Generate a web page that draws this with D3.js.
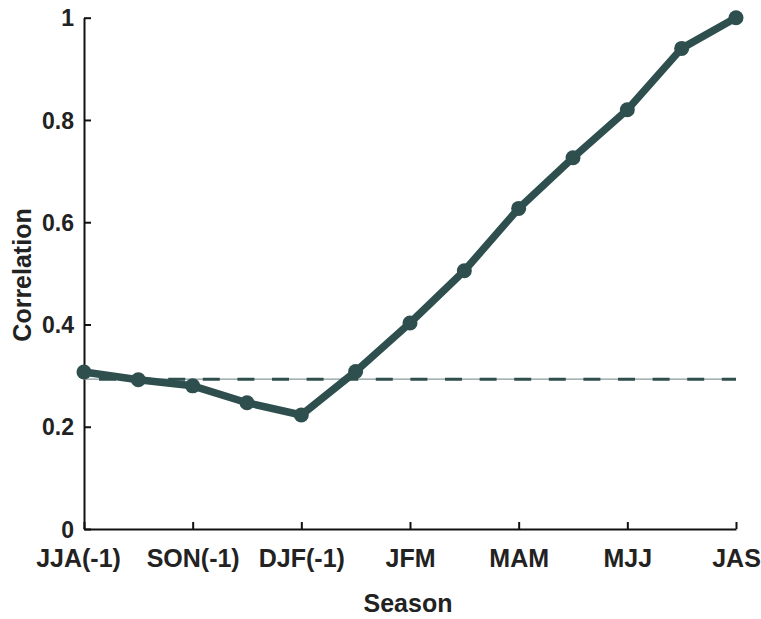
<!DOCTYPE html>
<html>
<head>
<meta charset="utf-8">
<script src="https://cdn.jsdelivr.net/npm/d3@7"></script>
<style>
    body { margin: 0; background: #fff; }
    text { font-family: "Liberation Sans", Arial, Helvetica, sans-serif; font-weight: bold; fill: #222; }
</style>
</head>
<body>
<div id="chart"></div>
<script>
//图表数据
const seasons = ["JJA(-1)", "JAS(-1)", "SON(-1)", "OND(-1)", "DJF(-1)", "JFM(a)", "JFM",
    "FMA", "MAM", "AMJ", "MJJ", "JJA", "JAS"];
const tickLabels = ["JJA(-1)", "SON(-1)", "DJF(-1)", "JFM", "MAM", "MJJ", "JAS"];
const correlation = [0.307, 0.292, 0.280, 0.247, 0.223, 0.308, 0.403, 0.505, 0.627, 0.726, 0.820, 0.940, 1.0];
const threshold = 0.293;
const yTicks = [0, 0.2, 0.4, 0.6, 0.8, 1];

const width = 761;
const height = 619;
const lineColor = "#2f4f4f";

var svg = d3.select("#chart").append("svg")
    .attr("width", width).attr("height", height);

var x = d3.scaleLinear()
    .domain([0, seasons.length - 1])
    .range([84, 736]);

var y = d3.scaleLinear()
    .domain([0, 1])
    .range([529, 17.7]);

//坐标轴
var xAxis = d3.axisBottom(x)
    .tickValues(d3.range(0, seasons.length, 2))
    .tickFormat((d, i) => tickLabels[i])
    .tickSizeInner(-7)
    .tickSizeOuter(0)
    .tickPadding(30);

var gx = svg.append("g")
    .attr("transform", "translate(0," + y(0) + ")")
    .call(xAxis);
gx.selectAll("text").style("font-size", "25px").attr("dy", "0.71em").attr("y", 20);
//第一个标签略微左移
gx.selectAll("text").filter((d, i) => i === 0).attr("x", -6);

var yAxis = d3.axisLeft(y)
    .tickValues(yTicks)
    .tickFormat(d => d === 0 || d === 1 ? d3.format("d")(d) : d3.format(".1f")(d))
    .tickSizeInner(-7)
    .tickSizeOuter(0)
    .tickPadding(10);

var gy = svg.append("g")
    .attr("transform", "translate(" + x(0) + ",0)")
    .call(yAxis);
gy.selectAll("text").style("font-size", "23px").attr("dy", "0.35em");

svg.selectAll(".domain, .tick line")
    .attr("stroke", "#111")
    .attr("stroke-width", 2);

//阈值虚线
svg.append("line")
    .attr("x1", x(0)).attr("x2", x(seasons.length - 1))
    .attr("y1", y(threshold)).attr("y2", y(threshold))
    .attr("stroke", "#8a9898")
    .attr("stroke-width", 1.2);

svg.append("line")
    .attr("x1", x(0)).attr("x2", x(seasons.length - 1))
    .attr("y1", y(threshold)).attr("y2", y(threshold))
    .attr("stroke", lineColor)
    .attr("stroke-width", 3)
    .attr("stroke-dasharray", "17,17.6")
    .attr("stroke-dashoffset", -15);

//相关系数曲线
var line = d3.line()
    .x((d, i) => x(i))
    .y(d => y(d));

svg.append("path")
    .datum(correlation)
    .attr("fill", "none")
    .attr("stroke", lineColor)
    .attr("stroke-width", 7.5)
    .attr("stroke-linejoin", "round")
    .attr("d", line);

svg.append("g")
    .selectAll("circle")
    .data(correlation)
    .enter()
    .append("circle")
    .attr("cx", (d, i) => x(i))
    .attr("cy", d => y(d))
    .attr("r", 7.5)
    .attr("fill", lineColor);

//轴标题
svg.append("text")
    .attr("x", 408)
    .attr("y", 612)
    .attr("text-anchor", "middle")
    .style("font-size", "25px")
    .text("Season");

svg.append("text")
    .attr("transform", "translate(31,275) rotate(-90)")
    .attr("text-anchor", "middle")
    .style("font-size", "25px")
    .text("Correlation");
</script>
</body>
</html>
